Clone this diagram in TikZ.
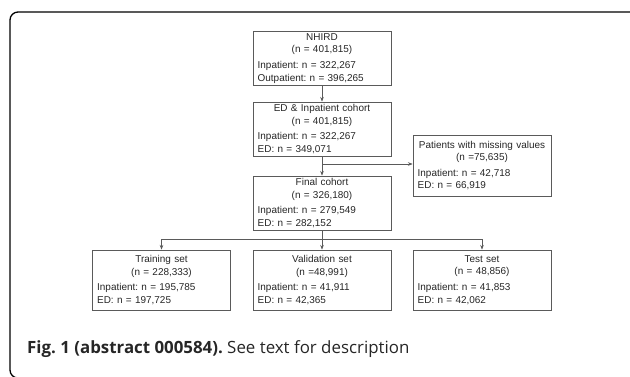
\documentclass[tikz,border=0pt]{standalone}
\usepackage{fontspec}
\setmainfont{Liberation Sans}
\newfontfamily\capfont{Open Sans}
\usetikzlibrary{arrows.meta}
\frenchspacing
\definecolor{boxgray}{HTML}{5A5A5A}
\definecolor{txtgray}{HTML}{262626}
\newcommand{\boxlines}[4]{{\centering #1\\#2\par}\vspace{3pt}#3\\#4}
\tikzset{
  flowbox/.style={draw=boxgray, line width=0.6pt, text=txtgray, minimum width=4.14cm,
    minimum height=1.62cm, text width=3.86cm, inner xsep=0.14cm, inner ysep=2pt,
    align=left, font=\fontsize{8.5}{10.6}\selectfont},
  flowline/.style={draw=boxgray, line width=0.5pt},
  flowarrow/.style={flowline, -{Stealth[length=4pt, width=3pt]}}
}
\begin{document}
\begin{tikzpicture}
        \useasboundingbox (0,0) rectangle (18.9,-11.28);
        % Outer frame (cut at right and bottom)
        \begin{scope}
            \clip (0,0) rectangle (18.9,-11.28);
            \draw[line width=1.1pt, rounded corners=0.24cm] (0.3,-0.36) rectangle (19.15,-11.34);
        \end{scope}

        % Boxes
        \node[flowbox] (nhird) at (9.66,-1.755) {\boxlines{NHIRD}{(n = 401,815)}{Inpatient: n = 322,267}{Outpatient: n = 396,265}};
        \node[flowbox] (ed) at (9.66,-3.87) {\boxlines{ED \& Inpatient cohort}{(n = 401,815)}{Inpatient: n = 322,267}{ED: n = 349,071}};
        \node[flowbox] (final) at (9.66,-6.09) {\boxlines{Final cohort}{(n = 326,180)}{Inpatient: n = 279,549}{ED: n = 282,152}};
        \node[flowbox, minimum height=1.83cm] (missing) at (14.46,-4.965) {\boxlines{Patients with missing values}{(n =75,635)}{Inpatient: n = 42,718}{ED: n = 66,919}};
        \node[flowbox, minimum height=1.8cm] (train) at (4.845,-8.4) {\boxlines{Training set}{(n = 228,333)}{Inpatient: n = 195,785}{ED: n = 197,725}};
        \node[flowbox, minimum height=1.8cm] (valid) at (9.66,-8.4) {\boxlines{Validation set}{(n =48,991)}{Inpatient: n = 41,911}{ED: n = 42,365}};
        \node[flowbox, minimum height=1.8cm] (test) at (14.46,-8.4) {\boxlines{Test set}{(n = 48,856)}{Inpatient: n = 41,853}{ED: n = 42,062}};

        % Connectors
        \draw[flowarrow] (nhird) -- (ed);
        \draw[flowarrow] (ed) -- (final);
        \coordinate (split) at (9.66,-4.92);
        \draw[flowarrow] (split) -- (split -| missing.west);
        \coordinate (branch) at (9.66,-7.17);
        \draw[flowline] (final.south) -- (branch);
        \foreach \target in {train, valid, test}
            \draw[flowarrow] (branch) -| (\target.north);

        % Caption
        \node[anchor=base west, inner sep=0pt, font=\capfont\fontsize{14.4}{17}\selectfont, text=black!85] (caption) at (0.81,-10.6)
            {\textbf{Fig. 1 (abstract 000584).} See text for description};
\end{tikzpicture}
\end{document}
